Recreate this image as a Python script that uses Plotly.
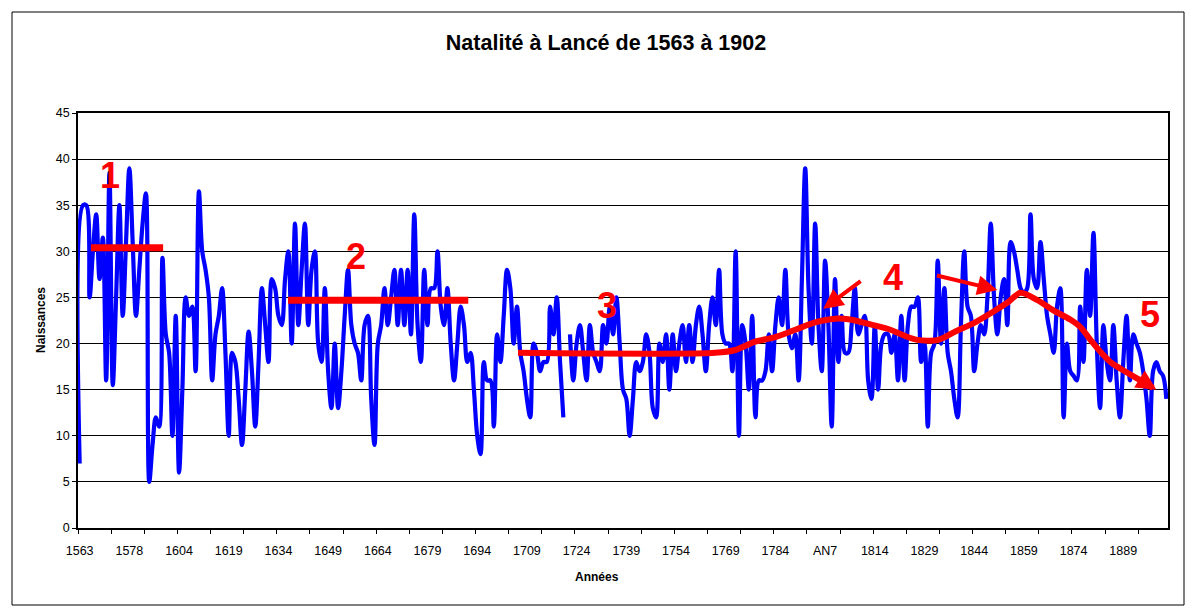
import plotly.graph_objects as go

# ---- categories (years; "AN7" = an VII of the republican calendar) ----
years = [str(y) for y in range(1563, 1593)] + [str(y) for y in range(1604, 1903)]
years[years.index("1799")] = "AN7"

# ---- births per year ----
naissances = [
    7, 35, 35, 25, 30, 34, 27, 31.5, 16, 38.5,
    15.5, 25, 35, 23, 31, 39, 31, 23, 28, 33,
    36.3, 5, 9, 12, 11, 29.3, 21, 19, 10, 23,
    6, 15, 25, 23, 24, 17, 36.5, 30, 28, 25,
    16, 21, 23, 26, 19, 10, 19, 18, 14, 9,
    15, 21.3, 17, 11, 18, 26, 22, 18, 27, 26,
    23, 22, 27, 30, 20, 33, 22, 28, 33, 22,
    28, 30, 20, 18, 26, 17, 13, 20, 13, 17,
    23, 28, 22, 20, 19, 16, 22, 23, 14, 9,
    20, 22, 26, 22, 25, 28, 22, 28, 22, 28,
    21, 34, 22, 18, 28, 22, 26, 26, 30, 24,
    22, 26, 20, 16, 20, 24, 22, 18, 19, 15,
    10, 8, 18, 16, 16, 11, 21, 18, 23, 28,
    26, 20, 24, 19, 17, 14, 12, 20, 19, 17,
    18, 18, 24, 21, 25, 18, 12, None, 21, 16,
    20, 22, 19, 16, 22, 19, 18, 17, 22, 20,
    24, 21, 25, 20, 15, 14, 10, 14, 18, 17,
    18, 21, 19, 13, 12, 20, 18, 21, 15, 21,
    17, 20, 22, 18, 22, 18, 22, 24, 21, 17,
    22, 25, 22, 28, 21, 20, 20, 17, 30, 10,
    22, 20, 15, 23, 12, 16, 16, 17, 21, 17,
    22, 25, 22, 28, 21, 19.5, 21, 16, 27, 39,
    26, 20, 33, 22, 17, 29, 22, 11, 27, 18,
    23, 19, 19, 22, 26, 21, 22, 23, 16, 14,
    22, 15, 20, 21, 21, 19, 21, 16, 23, 16,
    22, 24, 24, 25, 18, 20, 11, 19, 20, 29,
    20, 26, 19, 17, 14, 12, 22, 30, 24, 23,
    17, 20, 22, 21, 25, 33, 25, 21, 25, 27,
    22, 31, 30, 28, 26, 25.5, 26, 34, 27, 26,
    31, 27, 23, 21, 19, 24, 26, 12, 20, 17,
    16.5, 16, 24, 18, 28, 23, 32, 20, 13, 22,
    18, 16, 22, 16, 12, 18, 23, 16, 21, 20,
    19, 17, 14, 10, 17, 18, 17, 16.5, 14,
]

# ---- hand-drawn red annotations (category index, value) ----
level1 = dict(x0=3.4, x1=25.2, y=30.4)
level2 = dict(x0=62.9, x1=117.3, y=24.7)
trend_x = [132.3, 191.8, 197.9, 203.9, 209.9, 216.0, 222.0, 228.0, 232.6, 239.5,
           244.7, 248.6, 252.8, 259.2, 264.3, 270.3, 275.5, 280.3, 283.9, 289.1,
           293.9, 299.0, 302.0, 305.1, 308.1, 311.1, 314.1, 320.2, 324.0]
trend_y = [19.0, 19.0, 19.3, 20.2, 20.7, 21.5, 22.3, 22.7, 22.6, 22.0,
           21.5, 20.9, 20.4, 20.4, 21.3, 22.3, 23.4, 24.5, 25.5, 24.7,
           23.6, 22.6, 21.8, 20.4, 19.1, 18.0, 17.3, 16.0, 15.2]
marks = [("1", 9.2, 38.2), ("2", 83.4, 29.4), ("3", 159.2, 24.1),
         ("4", 245.6, 27.2), ("5", 323.2, 23.1)]

idx = list(range(len(years)))
FONT = "Liberation Sans, Arial, sans-serif"

fig = go.Figure()
fig.add_trace(go.Scatter(
    x=idx, y=naissances, mode="lines",
    line=dict(color="#0000FF", width=4.2, shape="spline", smoothing=1),
    connectgaps=False, hoverinfo="skip", showlegend=False,
))
for lv in (level1, level2):
    fig.add_trace(go.Scatter(
        x=[lv["x0"], lv["x1"]], y=[lv["y"], lv["y"]], mode="lines",
        line=dict(color="#FF0000", width=7), hoverinfo="skip", showlegend=False,
    ))
fig.add_trace(go.Scatter(
    x=trend_x, y=trend_y, mode="lines",
    line=dict(color="#FF0000", width=6, shape="spline", smoothing=0.8),
    hoverinfo="skip", showlegend=False,
))

annotations = []
for txt, xx, yy in marks:
    annotations.append(dict(x=xx, y=yy, xref="x", yref="y", text=f"<b>{txt}</b>",
                            xanchor="center", yanchor="middle",
                            showarrow=False, font=dict(family=FONT, size=36, color="#FF0000")))
# arrows
annotations.append(dict(x=224.4, y=23.75, xref="x", yref="y", ax=39, ay=-29, text="",
                        showarrow=True, arrowhead=2, arrowsize=1, arrowwidth=4, arrowcolor="#FF0000"))
annotations.append(dict(x=277.0, y=25.8, xref="x", yref="y", ax=-62, ay=-15, text="",
                        showarrow=True, arrowhead=2, arrowsize=1, arrowwidth=4, arrowcolor="#FF0000"))
annotations.append(dict(x=325.0, y=15.0, xref="x", yref="y", ax=-16, ay=-10, text="",
                        showarrow=True, arrowhead=2, arrowsize=1, arrowwidth=4, arrowcolor="#FF0000"))
# axis titles
annotations.append(dict(x=(41 - 78) / 1090, y=(528 - 320) / 415, xref="paper", yref="paper",
                        text="<b>Naissances</b>", xanchor="center", yanchor="middle",
                        textangle=-90, showarrow=False, font=dict(family=FONT, size=12, color="black")))
annotations.append(dict(x=(597 - 78) / 1090, y=(528 - 577) / 415, xref="paper", yref="paper",
                        text="<b>Années</b>", xanchor="center", yanchor="middle",
                        showarrow=False, font=dict(family=FONT, size=12, color="black")))

# outer chart border
shapes = [dict(type="rect", xref="paper", yref="paper",
               x0=(12 - 78) / 1090, x1=(1184 - 78) / 1090,
               y0=(528 - 605) / 415, y1=(528 - 12) / 415,
               line=dict(color="black", width=1), fillcolor="rgba(0,0,0,0)")]

fig.update_layout(
    width=1195, height=611,
    margin=dict(l=78, r=27, t=113, b=83),
    paper_bgcolor="white", plot_bgcolor="white",
    font=dict(family=FONT, size=12, color="black"),
    title=dict(text="<b>Natalité à Lancé de 1563 à 1902</b>", x=(606 - 0) / 1195, xanchor="center",
               y=1 - 42 / 611, yanchor="middle", font=dict(family=FONT, size=21.5, color="black")),
    annotations=annotations, shapes=shapes,
    showlegend=False,
)
fig.update_xaxes(
    range=[-0.5, len(years) - 0.5],
    tickmode="array", tickvals=idx[::15], ticktext=years[::15],
    ticks="", ticklabelstandoff=10, showgrid=False, zeroline=False,
    showline=True, linecolor="black", linewidth=1.5, mirror=True,
    tickfont=dict(family=FONT, size=12.5, color="black"),
    minor=dict(tickmode="array", tickvals=[k * 10 - 0.5 for k in range(34)],
               ticks="outside", ticklen=4, tickcolor="black", showgrid=False),
)
fig.update_yaxes(
    range=[0, 45], dtick=5, tick0=0,
    showgrid=True, gridcolor="black", gridwidth=1,
    zeroline=False, showline=True, linecolor="black", linewidth=1.5, mirror=True,
    ticks="outside", ticklen=4, tickcolor="black",
    tickfont=dict(family=FONT, size=12.5, color="black"),
)

fig.write_html("out.html", config={"displayModeBar": False},
               post_script="document.body.style.margin='0px';")
